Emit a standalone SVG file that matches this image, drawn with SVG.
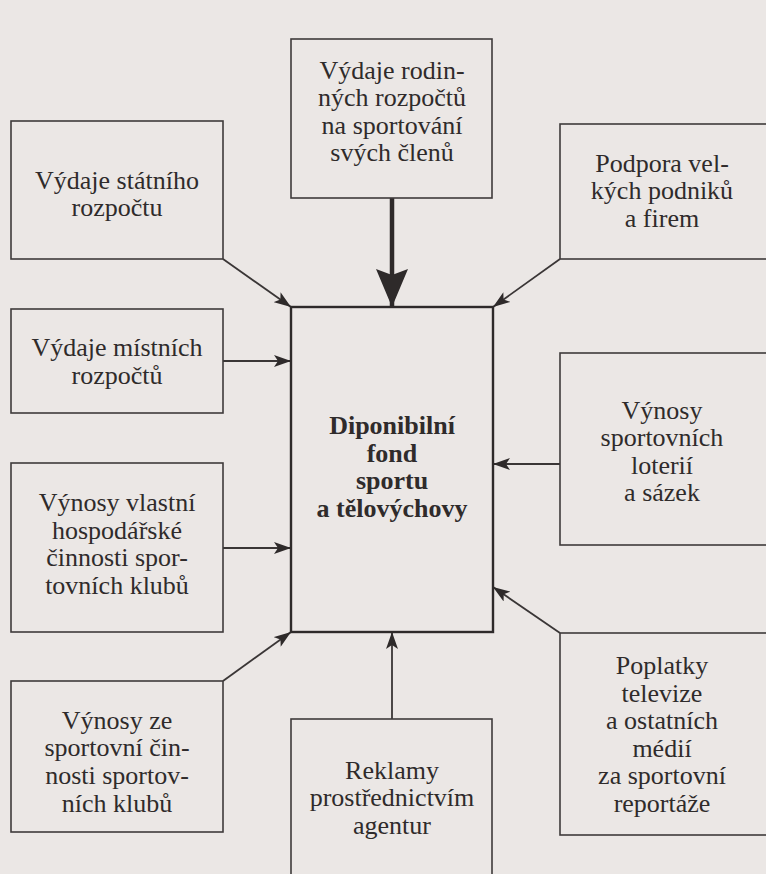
<svg xmlns="http://www.w3.org/2000/svg" width="766" height="874" viewBox="0 0 766 874">
  <style>
    .box { fill: none; stroke: #3f3b3b; stroke-width: 1.6; }
    .main { fill: none; stroke: #2e2a2a; stroke-width: 2.4; }
    .lbl { font-family: "Liberation Serif", "Times New Roman", serif; font-size: 26px; fill: #2f2b2b; text-anchor: middle; }
    .bold { font-weight: bold; }
    .con { fill: none; stroke: #3a3636; stroke-width: 1.8; }
    .thick { fill: none; stroke: #2e2a2a; stroke-width: 4.5; }
  </style>
  <defs>
    <marker id="ah" viewBox="0 0 17 12" refX="17" refY="6" markerWidth="17" markerHeight="12" markerUnits="userSpaceOnUse" orient="auto">
      <path d="M0,0 L17,6 L0,12 L4,6 z" fill="#2e2a2a"/>
    </marker>
    <marker id="ahBig" viewBox="0 0 38 32" refX="38" refY="16" markerWidth="38" markerHeight="32" markerUnits="userSpaceOnUse" orient="auto">
      <path d="M0,0 L38,16 L0,32 L6,16 z" fill="#2e2a2a"/>
    </marker>
  </defs>
  <rect x="0" y="0" width="766" height="874" fill="#ebe7e5"/>

  <g id="connectors">
    <path class="con" d="M223,259 L291,307" marker-end="url(#ah)"/>
    <path class="con" d="M560,259 L493,307" marker-end="url(#ah)"/>
    <path class="con" d="M223,361 L291,361" marker-end="url(#ah)"/>
    <path class="con" d="M223,548 L291,548" marker-end="url(#ah)"/>
    <path class="con" d="M560,464 L493,464" marker-end="url(#ah)"/>
    <path class="con" d="M560,633 L493,587" marker-end="url(#ah)"/>
    <path class="con" d="M392,719 L392,632" marker-end="url(#ah)"/>
    <path class="con" d="M223,681 L291,632" marker-end="url(#ah)"/>
    <path class="thick" d="M392,198 L392,307" marker-end="url(#ahBig)"/>
  </g>

  <g id="statni">
    <rect class="box" x="11" y="121" width="212" height="138"/>
    <text class="lbl" x="117" y="189">Výdaje státního</text>
    <text class="lbl" x="117" y="216">rozpočtu</text>
  </g>

  <g id="rodinne">
    <rect class="box" x="291" y="39" width="201" height="159"/>
    <text class="lbl" x="392" y="79">Výdaje rodin-</text>
    <text class="lbl" x="392" y="106">ných rozpočtů</text>
    <text class="lbl" x="392" y="134">na sportování</text>
    <text class="lbl" x="392" y="161">svých členů</text>
  </g>

  <g id="podniky">
    <rect class="box" x="560" y="124" width="230" height="135"/>
    <text class="lbl" x="662" y="172">Podpora vel-</text>
    <text class="lbl" x="662" y="199">kých podniků</text>
    <text class="lbl" x="662" y="227">a firem</text>
  </g>

  <g id="mistni">
    <rect class="box" x="11" y="309" width="212" height="104"/>
    <text class="lbl" x="117" y="356">Výdaje místních</text>
    <text class="lbl" x="117" y="384">rozpočtů</text>
  </g>

  <g id="fond">
    <rect class="main" x="291" y="307" width="202" height="325"/>
    <text class="lbl bold" x="392" y="434">Diponibilní</text>
    <text class="lbl bold" x="392" y="462">fond</text>
    <text class="lbl bold" x="392" y="489">sportu</text>
    <text class="lbl bold" x="392" y="517">a tělovýchovy</text>
  </g>

  <g id="loterie">
    <rect class="box" x="560" y="353" width="230" height="192"/>
    <text class="lbl" x="662" y="419">Výnosy</text>
    <text class="lbl" x="662" y="446">sportovních</text>
    <text class="lbl" x="662" y="474">loterií</text>
    <text class="lbl" x="662" y="501">a sázek</text>
  </g>

  <g id="hospodarska">
    <rect class="box" x="11" y="463" width="212" height="169"/>
    <text class="lbl" x="117" y="511">Výnosy vlastní</text>
    <text class="lbl" x="117" y="539">hospodářské</text>
    <text class="lbl" x="117" y="566">činnosti spor-</text>
    <text class="lbl" x="117" y="594">tovních klubů</text>
  </g>

  <g id="sportovni">
    <rect class="box" x="11" y="681" width="212" height="151"/>
    <text class="lbl" x="117" y="729">Výnosy ze</text>
    <text class="lbl" x="117" y="756">sportovní čin-</text>
    <text class="lbl" x="117" y="784">nosti sportov-</text>
    <text class="lbl" x="117" y="812">ních klubů</text>
  </g>

  <g id="reklamy">
    <rect class="box" x="291" y="719" width="201" height="200"/>
    <text class="lbl" x="392" y="779">Reklamy</text>
    <text class="lbl" x="392" y="806">prostřednictvím</text>
    <text class="lbl" x="392" y="834">agentur</text>
  </g>

  <g id="media">
    <rect class="box" x="560" y="633" width="230" height="202"/>
    <text class="lbl" x="662" y="674">Poplatky</text>
    <text class="lbl" x="662" y="702">televize</text>
    <text class="lbl" x="662" y="729">a ostatních</text>
    <text class="lbl" x="662" y="757">médií</text>
    <text class="lbl" x="662" y="784">za sportovní</text>
    <text class="lbl" x="662" y="812">reportáže</text>
  </g>
</svg>
